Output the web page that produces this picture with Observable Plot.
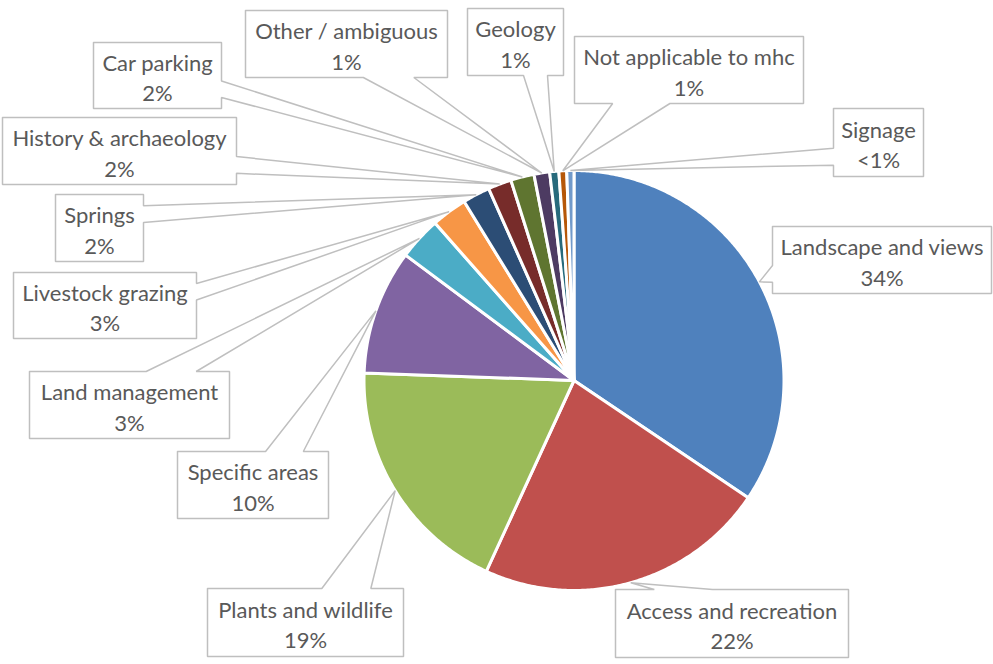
<!DOCTYPE html>
<html>
<head>
<meta charset="utf-8">
<script src="https://cdn.jsdelivr.net/npm/d3@7"></script>
<script src="https://cdn.jsdelivr.net/npm/@observablehq/plot@0.6"></script>
<style>
  html, body { margin: 0; padding: 0; background: #ffffff; }
  #chart { width: 993px; height: 664px; }
</style>
</head>
<body>
<div id="chart"></div>
<script>
// ---- data ----
const categories = [
  "Landscape and views", "Access and recreation", "Plants and wildlife",
  "Specific areas", "Land management", "Livestock grazing", "Springs",
  "History & archaeology", "Car parking", "Other / ambiguous", "Geology",
  "Not applicable to mhc", "Signage"
];
const shares = [34.4, 22.4, 18.7, 9.6, 3.3, 2.75, 2.1, 1.8, 1.8, 1.2, 0.7, 0.6, 0.55];
const pctLabels = ["34%", "22%", "19%", "10%", "3%", "3%", "2%", "2%", "2%", "1%", "1%", "1%", "<1%"];
const colors = [
  "#4F81BD", "#C0504D", "#9BBB59", "#8064A2", "#4BACC6", "#F79646",
  "#2C4D75", "#772C2A", "#5F7530", "#4D3B62", "#276A7C", "#B65708", "#729ACA"
];

// ---- layout (pixels) ----
const W = 993, H = 664;
const pie = {cx: 573.5, cy: 380, r: 210};
const labelBoxes = [
  [772, 226, 991, 293],
  [615, 589, 848, 657],
  [207, 588, 403, 656],
  [177, 451, 328, 518],
  [29, 371, 229, 438],
  [13, 272, 196, 338],
  [55, 194, 143, 261],
  [2, 117, 236, 184],
  [93, 42, 221, 108],
  [245, 10, 447, 77],
  [467, 8, 563, 75],
  [574, 36, 803, 103],
  [833, 108, 923, 176]
];

// ---- pie geometry ----
const arcs = d3.pie().sort(null).value(d => d)(shares);
const polar = (a, rr) => [pie.cx + rr * Math.sin(a), pie.cy - rr * Math.cos(a)];

const slicePts = [];
arcs.forEach((a, i) => {
  const name = categories[i];
  slicePts.push({name, x: pie.cx, y: pie.cy});
  const n = Math.max(4, Math.ceil((a.endAngle - a.startAngle) / (Math.PI / 360)));
  for (let k = 0; k <= n; k++) {
    const t = a.startAngle + (a.endAngle - a.startAngle) * k / n;
    const [x, y] = polar(t, pie.r);
    slicePts.push({name, x, y});
  }
  slicePts.push({name, x: pie.cx, y: pie.cy});
});

// Excel-like wedge rectangle callouts
function callout(box, tip) {
  const [x0, y0, x1, y1] = box;
  const w = x1 - x0, h = y1 - y0, hc = (x0 + x1) / 2, vc = (y0 + y1) / 2;
  const dx = tip[0] - hc, dy = tip[1] - vc;
  const dq = dx * h / w;
  let pts;
  if (Math.abs(dy) > Math.abs(dq)) {
    const g = dx > 0 ? [7, 10] : [2, 5];
    const xa = x0 + w * g[0] / 12, xb = x0 + w * g[1] / 12;
    if (dy < 0) pts = [[x0, y0], [xa, y0], tip, [xb, y0], [x1, y0], [x1, y1], [x0, y1], [x0, y0]];
    else pts = [[x0, y0], [x1, y0], [x1, y1], [xb, y1], tip, [xa, y1], [x0, y1], [x0, y0]];
  } else {
    const g = dy > 0 ? [7, 10] : [2, 5];
    const ya = y0 + h * g[0] / 12, yb = y0 + h * g[1] / 12;
    if (dx < 0) pts = [[x0, y0], [x1, y0], [x1, y1], [x0, y1], [x0, yb], tip, [x0, ya], [x0, y0]];
    else pts = [[x0, y0], [x1, y0], [x1, ya], tip, [x1, yb], [x1, y1], [x0, y1], [x0, y0]];
  }
  return pts;
}

const calloutPts = [];
const labelData = [];
arcs.forEach((a, i) => {
  const mid = (a.startAngle + a.endAngle) / 2;
  const tip = polar(mid, pie.r);
  const box = labelBoxes[i];
  callout(box, tip).forEach(([x, y]) => calloutPts.push({name: categories[i], x, y}));
  labelData.push({
    name: categories[i],
    x: (box[0] + box[2]) / 2,
    y: (box[1] + box[3]) / 2 + 0.5,
    text: categories[i] + "\n" + pctLabels[i]
  });
});

const chart = Plot.plot({
  width: W,
  height: H,
  margin: 0,
  x: {domain: [0, W], range: [0, W], axis: null},
  y: {domain: [0, H], range: [0, H], axis: null},
  color: {domain: categories, range: colors},
  style: {background: "#ffffff", fontFamily: "Lato, 'Open Sans', sans-serif"},
  marks: [
    Plot.line(slicePts, {x: "x", y: "y", z: "name", fill: "name", stroke: "#ffffff", strokeWidth: 3, strokeLinejoin: "round", curve: "linear"}),
    Plot.line(calloutPts, {x: "x", y: "y", z: "name", stroke: "#BFBFBF", strokeWidth: 1.5, fill: "none", strokeLinejoin: "miter", curve: "linear"}),
    Plot.text(labelData, {x: "x", y: "y", text: "text", fontSize: 22, lineHeight: 1.39, fill: "#595959", textAnchor: "middle"})
  ]
});
document.getElementById("chart").appendChild(chart);
</script>
</body>
</html>
